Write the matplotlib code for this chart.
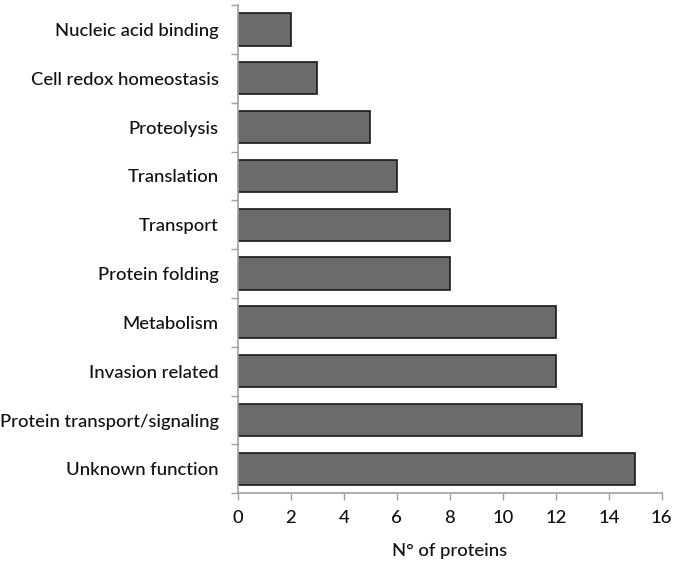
import numpy as np
import matplotlib.pyplot as plt

categories = ['Nucleic acid binding', 'Cell redox homeostasis', 'Proteolysis',
              'Translation', 'Transport', 'Protein folding', 'Metabolism',
              'Invasion related', 'Protein transport/signaling', 'Unknown function']
counts = [2, 3, 5, 6, 8, 8, 12, 12, 13, 15]
xticks = list(range(0, 17, 2))

plt.rcParams['font.family'] = ['Lato', 'DejaVu Sans']
fs = 13.3

fig = plt.figure(figsize=(6.76, 5.65), dpi=100)
ax = fig.add_axes([0.352, 0.127, 0.627, 0.864])

pos = np.arange(len(categories))
ax.barh(pos, counts, height=0.66, color='#6b6b6b', edgecolor='#1a1a1a', linewidth=1.2)

ax.set_ylim(len(categories) - 0.5, -0.5)
ax.set_xlim(0, 16)
ax.set_yticks(pos)
ax.set_yticklabels(categories, fontsize=fs, weight='medium', color='#111111')
ax.set_yticks(np.arange(-0.5, len(categories), 1), minor=True)
ax.tick_params(axis='y', which='major', length=0, pad=14)
ax.tick_params(axis='y', which='minor', length=5, color='#a0a0a0', width=1)
ax.set_xticks(xticks)
ax.set_xticklabels([str(t) for t in xticks], fontsize=fs, weight='medium', color='#111111')
ax.tick_params(axis='x', length=5, color='#a0a0a0', width=1, pad=7)
ax.set_xlabel('N° of proteins', fontsize=fs, weight='medium', color='#111111', labelpad=12)

for s in ['top', 'right']:
    ax.spines[s].set_visible(False)
for s in ['left', 'bottom']:
    ax.spines[s].set_color('#a0a0a0')
    ax.spines[s].set_linewidth(1.2)

fig.savefig('out.png', dpi=100)
